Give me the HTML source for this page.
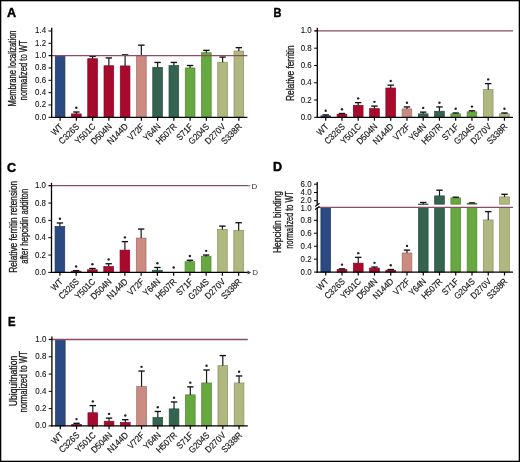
<!DOCTYPE html>
<html><head><meta charset="utf-8"><style>
html,body{margin:0;padding:0;background:#fff;}
svg{display:block;filter:grayscale(0);font-family:"Liberation Sans",sans-serif;}
</style></head><body>
<svg width="520" height="462" viewBox="0 0 520 462">
<rect x="0" y="0" width="520" height="462" fill="#fff"/>
<text transform="translate(7.0,17.1) scale(1.0,1)" font-size="12.6" font-weight="bold"  fill="#000" stroke="#000" stroke-width="0.45">A</text>
<text transform="translate(16.30,68.4) rotate(-90)" text-anchor="middle" font-size="10.2"  fill="#1a1a1a" stroke="#1a1a1a" stroke-width="0.3" textLength="76" lengthAdjust="spacingAndGlyphs">Membrane localization</text>
<text transform="translate(27.10,70.3) rotate(-90)" text-anchor="middle" font-size="10.2"  fill="#1a1a1a" stroke="#1a1a1a" stroke-width="0.3" textLength="60.2" lengthAdjust="spacingAndGlyphs">normalized to WT</text>
<rect x="55.25" y="55.65" width="9.7" height="61.65" fill="#2b4a82" stroke="#213965" stroke-width="0.7"/>
<rect x="71.50" y="113.91" width="9.7" height="3.39" fill="#a80a2e" stroke="#830723" stroke-width="0.7"/>
<line x1="76.35" y1="113.91" x2="76.35" y2="112.00" stroke="#1a1a1a" stroke-width="1.2"/>
<line x1="73.15" y1="112.00" x2="79.55" y2="112.00" stroke="#111" stroke-width="1.35"/>
<circle cx="76.35" cy="107.80" r="1.2" fill="#222"/>
<rect x="87.75" y="58.73" width="9.7" height="58.57" fill="#a80a2e" stroke="#830723" stroke-width="0.7"/>
<line x1="92.60" y1="58.73" x2="92.60" y2="56.45" stroke="#1a1a1a" stroke-width="1.2"/>
<line x1="89.40" y1="56.45" x2="95.80" y2="56.45" stroke="#111" stroke-width="1.35"/>
<rect x="104.00" y="65.76" width="9.7" height="51.54" fill="#a80a2e" stroke="#830723" stroke-width="0.7"/>
<line x1="108.85" y1="65.76" x2="108.85" y2="57.93" stroke="#1a1a1a" stroke-width="1.2"/>
<line x1="105.65" y1="57.93" x2="112.05" y2="57.93" stroke="#111" stroke-width="1.35"/>
<rect x="120.25" y="65.95" width="9.7" height="51.35" fill="#a80a2e" stroke="#830723" stroke-width="0.7"/>
<line x1="125.10" y1="65.95" x2="125.10" y2="54.85" stroke="#1a1a1a" stroke-width="1.2"/>
<line x1="121.90" y1="54.85" x2="128.30" y2="54.85" stroke="#111" stroke-width="1.35"/>
<rect x="136.50" y="55.65" width="9.7" height="61.65" fill="#cc8b80" stroke="#9f6c63" stroke-width="0.7"/>
<line x1="141.35" y1="55.65" x2="141.35" y2="45.17" stroke="#1a1a1a" stroke-width="1.2"/>
<line x1="138.15" y1="45.17" x2="144.55" y2="45.17" stroke="#111" stroke-width="1.35"/>
<rect x="152.75" y="67.36" width="9.7" height="49.94" fill="#346450" stroke="#284e3e" stroke-width="0.7"/>
<line x1="157.60" y1="67.36" x2="157.60" y2="62.43" stroke="#1a1a1a" stroke-width="1.2"/>
<line x1="154.40" y1="62.43" x2="160.80" y2="62.43" stroke="#111" stroke-width="1.35"/>
<rect x="169.00" y="65.51" width="9.7" height="51.79" fill="#346450" stroke="#284e3e" stroke-width="0.7"/>
<line x1="173.85" y1="65.51" x2="173.85" y2="62.43" stroke="#1a1a1a" stroke-width="1.2"/>
<line x1="170.65" y1="62.43" x2="177.05" y2="62.43" stroke="#111" stroke-width="1.35"/>
<rect x="185.25" y="67.98" width="9.7" height="49.32" fill="#68a840" stroke="#518331" stroke-width="0.7"/>
<line x1="190.10" y1="67.98" x2="190.10" y2="65.51" stroke="#1a1a1a" stroke-width="1.2"/>
<line x1="186.90" y1="65.51" x2="193.30" y2="65.51" stroke="#111" stroke-width="1.35"/>
<rect x="201.50" y="52.75" width="9.7" height="64.55" fill="#68a840" stroke="#518331" stroke-width="0.7"/>
<line x1="206.35" y1="52.75" x2="206.35" y2="50.35" stroke="#1a1a1a" stroke-width="1.2"/>
<line x1="203.15" y1="50.35" x2="209.55" y2="50.35" stroke="#111" stroke-width="1.35"/>
<rect x="217.75" y="62.25" width="9.7" height="55.05" fill="#b0b880" stroke="#898f63" stroke-width="0.7"/>
<line x1="222.60" y1="62.25" x2="222.60" y2="57.07" stroke="#1a1a1a" stroke-width="1.2"/>
<line x1="219.40" y1="57.07" x2="225.80" y2="57.07" stroke="#111" stroke-width="1.35"/>
<rect x="234.00" y="51.03" width="9.7" height="66.27" fill="#b0b880" stroke="#898f63" stroke-width="0.7"/>
<line x1="238.85" y1="51.03" x2="238.85" y2="47.64" stroke="#1a1a1a" stroke-width="1.2"/>
<line x1="235.65" y1="47.64" x2="242.05" y2="47.64" stroke="#111" stroke-width="1.35"/>
<line x1="49.2" y1="55.65" x2="247.4" y2="55.65" stroke="#8c4c66" stroke-width="1.3"/>
<line x1="51.7" y1="27.8" x2="51.7" y2="117.90" stroke="#000" stroke-width="1.3"/>
<line x1="51.1" y1="117.3" x2="247.4" y2="117.3" stroke="#000" stroke-width="1.3"/>
<line x1="60.10" y1="117.3" x2="60.10" y2="120.70" stroke="#000" stroke-width="1.2"/>
<text transform="translate(63.60,127.20) rotate(-45)" text-anchor="end" font-size="9.0"  fill="#111" stroke="#111" stroke-width="0.15" textLength="12.59" lengthAdjust="spacingAndGlyphs">WT</text>
<line x1="76.35" y1="117.3" x2="76.35" y2="120.70" stroke="#000" stroke-width="1.2"/>
<text transform="translate(79.85,127.20) rotate(-45)" text-anchor="end" font-size="9.0"  fill="#111" stroke="#111" stroke-width="0.15" textLength="24.77" lengthAdjust="spacingAndGlyphs">C326S</text>
<line x1="92.60" y1="117.3" x2="92.60" y2="120.70" stroke="#000" stroke-width="1.2"/>
<text transform="translate(96.10,127.20) rotate(-45)" text-anchor="end" font-size="9.0"  fill="#111" stroke="#111" stroke-width="0.15" textLength="24.77" lengthAdjust="spacingAndGlyphs">Y501C</text>
<line x1="108.85" y1="117.3" x2="108.85" y2="120.70" stroke="#000" stroke-width="1.2"/>
<text transform="translate(112.35,127.20) rotate(-45)" text-anchor="end" font-size="9.0"  fill="#111" stroke="#111" stroke-width="0.15" textLength="25.21" lengthAdjust="spacingAndGlyphs">D504N</text>
<line x1="125.10" y1="117.3" x2="125.10" y2="120.70" stroke="#000" stroke-width="1.2"/>
<text transform="translate(128.60,127.20) rotate(-45)" text-anchor="end" font-size="9.0"  fill="#111" stroke="#111" stroke-width="0.15" textLength="25.21" lengthAdjust="spacingAndGlyphs">N144D</text>
<line x1="141.35" y1="117.3" x2="141.35" y2="120.70" stroke="#000" stroke-width="1.2"/>
<text transform="translate(144.85,127.20) rotate(-45)" text-anchor="end" font-size="9.0"  fill="#111" stroke="#111" stroke-width="0.15" textLength="19.36" lengthAdjust="spacingAndGlyphs">V72F</text>
<line x1="157.60" y1="117.3" x2="157.60" y2="120.70" stroke="#000" stroke-width="1.2"/>
<text transform="translate(161.10,127.20) rotate(-45)" text-anchor="end" font-size="9.0"  fill="#111" stroke="#111" stroke-width="0.15" textLength="20.26" lengthAdjust="spacingAndGlyphs">Y64N</text>
<line x1="173.85" y1="117.3" x2="173.85" y2="120.70" stroke="#000" stroke-width="1.2"/>
<text transform="translate(177.35,127.20) rotate(-45)" text-anchor="end" font-size="9.0"  fill="#111" stroke="#111" stroke-width="0.15" textLength="25.21" lengthAdjust="spacingAndGlyphs">H507R</text>
<line x1="190.10" y1="117.3" x2="190.10" y2="120.70" stroke="#000" stroke-width="1.2"/>
<text transform="translate(193.60,127.20) rotate(-45)" text-anchor="end" font-size="9.0"  fill="#111" stroke="#111" stroke-width="0.15" textLength="19.36" lengthAdjust="spacingAndGlyphs">S71F</text>
<line x1="206.35" y1="117.3" x2="206.35" y2="120.70" stroke="#000" stroke-width="1.2"/>
<text transform="translate(209.85,127.20) rotate(-45)" text-anchor="end" font-size="9.0"  fill="#111" stroke="#111" stroke-width="0.15" textLength="25.22" lengthAdjust="spacingAndGlyphs">G204S</text>
<line x1="222.60" y1="117.3" x2="222.60" y2="120.70" stroke="#000" stroke-width="1.2"/>
<text transform="translate(226.10,127.20) rotate(-45)" text-anchor="end" font-size="9.0"  fill="#111" stroke="#111" stroke-width="0.15" textLength="24.77" lengthAdjust="spacingAndGlyphs">D270V</text>
<line x1="238.85" y1="117.3" x2="238.85" y2="120.70" stroke="#000" stroke-width="1.2"/>
<text transform="translate(242.35,127.20) rotate(-45)" text-anchor="end" font-size="9.0"  fill="#111" stroke="#111" stroke-width="0.15" textLength="24.77" lengthAdjust="spacingAndGlyphs">S338R</text>
<line x1="48.5" y1="117.30" x2="51.7" y2="117.30" stroke="#000" stroke-width="1"/>
<text x="46.1" y="119.80" text-anchor="end" font-size="8.7"  fill="#111" stroke="#111" stroke-width="0.1" textLength="10.98" lengthAdjust="spacingAndGlyphs">0.0</text>
<line x1="48.5" y1="104.97" x2="51.7" y2="104.97" stroke="#000" stroke-width="1"/>
<text x="46.1" y="107.47" text-anchor="end" font-size="8.7"  fill="#111" stroke="#111" stroke-width="0.1" textLength="10.98" lengthAdjust="spacingAndGlyphs">0.2</text>
<line x1="48.5" y1="92.64" x2="51.7" y2="92.64" stroke="#000" stroke-width="1"/>
<text x="46.1" y="95.14" text-anchor="end" font-size="8.7"  fill="#111" stroke="#111" stroke-width="0.1" textLength="10.98" lengthAdjust="spacingAndGlyphs">0.4</text>
<line x1="48.5" y1="80.31" x2="51.7" y2="80.31" stroke="#000" stroke-width="1"/>
<text x="46.1" y="82.81" text-anchor="end" font-size="8.7"  fill="#111" stroke="#111" stroke-width="0.1" textLength="10.98" lengthAdjust="spacingAndGlyphs">0.6</text>
<line x1="48.5" y1="67.98" x2="51.7" y2="67.98" stroke="#000" stroke-width="1"/>
<text x="46.1" y="70.48" text-anchor="end" font-size="8.7"  fill="#111" stroke="#111" stroke-width="0.1" textLength="10.98" lengthAdjust="spacingAndGlyphs">0.8</text>
<line x1="48.5" y1="55.65" x2="51.7" y2="55.65" stroke="#000" stroke-width="1"/>
<text x="46.1" y="58.15" text-anchor="end" font-size="8.7"  fill="#111" stroke="#111" stroke-width="0.1" textLength="10.98" lengthAdjust="spacingAndGlyphs">1.0</text>
<line x1="48.5" y1="43.32" x2="51.7" y2="43.32" stroke="#000" stroke-width="1"/>
<text x="46.1" y="45.82" text-anchor="end" font-size="8.7"  fill="#111" stroke="#111" stroke-width="0.1" textLength="10.98" lengthAdjust="spacingAndGlyphs">1.2</text>
<line x1="48.5" y1="30.99" x2="51.7" y2="30.99" stroke="#000" stroke-width="1"/>
<text x="46.1" y="33.49" text-anchor="end" font-size="8.7"  fill="#111" stroke="#111" stroke-width="0.1" textLength="10.98" lengthAdjust="spacingAndGlyphs">1.4</text>
<text transform="translate(273.6,17.1) scale(0.87,1)" font-size="12.6" font-weight="bold"  fill="#000" stroke="#000" stroke-width="0.45">B</text>
<text transform="translate(294.30,73.2) rotate(-90)" text-anchor="middle" font-size="10.2"  fill="#1a1a1a" stroke="#1a1a1a" stroke-width="0.3" textLength="55.5" lengthAdjust="spacingAndGlyphs">Relative ferritin</text>
<rect x="320.85" y="115.83" width="9.7" height="1.47" fill="#2b4a82" stroke="#213965" stroke-width="0.7"/>
<line x1="325.70" y1="115.83" x2="325.70" y2="114.88" stroke="#1a1a1a" stroke-width="1.2"/>
<line x1="322.50" y1="114.88" x2="328.90" y2="114.88" stroke="#111" stroke-width="1.35"/>
<circle cx="325.70" cy="110.68" r="1.2" fill="#222"/>
<rect x="337.10" y="114.19" width="9.7" height="3.11" fill="#a80a2e" stroke="#830723" stroke-width="0.7"/>
<line x1="341.95" y1="114.19" x2="341.95" y2="113.50" stroke="#1a1a1a" stroke-width="1.2"/>
<line x1="338.75" y1="113.50" x2="345.15" y2="113.50" stroke="#111" stroke-width="1.35"/>
<circle cx="341.95" cy="109.30" r="1.2" fill="#222"/>
<rect x="353.35" y="105.38" width="9.7" height="11.92" fill="#a80a2e" stroke="#830723" stroke-width="0.7"/>
<line x1="358.20" y1="105.38" x2="358.20" y2="102.61" stroke="#1a1a1a" stroke-width="1.2"/>
<line x1="355.00" y1="102.61" x2="361.40" y2="102.61" stroke="#111" stroke-width="1.35"/>
<circle cx="358.20" cy="98.41" r="1.2" fill="#222"/>
<rect x="369.60" y="108.66" width="9.7" height="8.64" fill="#a80a2e" stroke="#830723" stroke-width="0.7"/>
<line x1="374.45" y1="108.66" x2="374.45" y2="106.07" stroke="#1a1a1a" stroke-width="1.2"/>
<line x1="371.25" y1="106.07" x2="377.65" y2="106.07" stroke="#111" stroke-width="1.35"/>
<circle cx="374.45" cy="101.87" r="1.2" fill="#222"/>
<rect x="385.85" y="88.01" width="9.7" height="29.29" fill="#a80a2e" stroke="#830723" stroke-width="0.7"/>
<line x1="390.70" y1="88.01" x2="390.70" y2="85.16" stroke="#1a1a1a" stroke-width="1.2"/>
<line x1="387.50" y1="85.16" x2="393.90" y2="85.16" stroke="#111" stroke-width="1.35"/>
<circle cx="390.70" cy="80.96" r="1.2" fill="#222"/>
<rect x="402.10" y="108.92" width="9.7" height="8.38" fill="#cc8b80" stroke="#9f6c63" stroke-width="0.7"/>
<line x1="406.95" y1="108.92" x2="406.95" y2="106.93" stroke="#1a1a1a" stroke-width="1.2"/>
<line x1="403.75" y1="106.93" x2="410.15" y2="106.93" stroke="#111" stroke-width="1.35"/>
<circle cx="406.95" cy="102.73" r="1.2" fill="#222"/>
<rect x="418.35" y="113.84" width="9.7" height="3.46" fill="#346450" stroke="#284e3e" stroke-width="0.7"/>
<line x1="423.20" y1="113.84" x2="423.20" y2="112.12" stroke="#1a1a1a" stroke-width="1.2"/>
<line x1="420.00" y1="112.12" x2="426.40" y2="112.12" stroke="#111" stroke-width="1.35"/>
<circle cx="423.20" cy="107.92" r="1.2" fill="#222"/>
<rect x="434.60" y="111.25" width="9.7" height="6.05" fill="#346450" stroke="#284e3e" stroke-width="0.7"/>
<line x1="439.45" y1="111.25" x2="439.45" y2="106.93" stroke="#1a1a1a" stroke-width="1.2"/>
<line x1="436.25" y1="106.93" x2="442.65" y2="106.93" stroke="#111" stroke-width="1.35"/>
<circle cx="439.45" cy="102.73" r="1.2" fill="#222"/>
<rect x="450.85" y="113.84" width="9.7" height="3.46" fill="#68a840" stroke="#518331" stroke-width="0.7"/>
<line x1="455.70" y1="113.84" x2="455.70" y2="112.98" stroke="#1a1a1a" stroke-width="1.2"/>
<line x1="452.50" y1="112.98" x2="458.90" y2="112.98" stroke="#111" stroke-width="1.35"/>
<circle cx="455.70" cy="108.78" r="1.2" fill="#222"/>
<rect x="467.10" y="111.86" width="9.7" height="5.44" fill="#68a840" stroke="#518331" stroke-width="0.7"/>
<line x1="471.95" y1="111.86" x2="471.95" y2="110.82" stroke="#1a1a1a" stroke-width="1.2"/>
<line x1="468.75" y1="110.82" x2="475.15" y2="110.82" stroke="#111" stroke-width="1.35"/>
<circle cx="471.95" cy="106.62" r="1.2" fill="#222"/>
<rect x="483.35" y="89.65" width="9.7" height="27.65" fill="#b0b880" stroke="#898f63" stroke-width="0.7"/>
<line x1="488.20" y1="89.65" x2="488.20" y2="83.60" stroke="#1a1a1a" stroke-width="1.2"/>
<line x1="485.00" y1="83.60" x2="491.40" y2="83.60" stroke="#111" stroke-width="1.35"/>
<circle cx="488.20" cy="79.40" r="1.2" fill="#222"/>
<rect x="499.60" y="113.84" width="9.7" height="3.46" fill="#b0b880" stroke="#898f63" stroke-width="0.7"/>
<line x1="504.45" y1="113.84" x2="504.45" y2="112.98" stroke="#1a1a1a" stroke-width="1.2"/>
<line x1="501.25" y1="112.98" x2="507.65" y2="112.98" stroke="#111" stroke-width="1.35"/>
<circle cx="504.45" cy="108.78" r="1.2" fill="#222"/>
<line x1="314.8" y1="30.90" x2="513" y2="30.90" stroke="#8c4c66" stroke-width="1.3"/>
<line x1="317.3" y1="27.8" x2="317.3" y2="117.90" stroke="#000" stroke-width="1.3"/>
<line x1="316.7" y1="117.3" x2="513" y2="117.3" stroke="#000" stroke-width="1.3"/>
<line x1="325.70" y1="117.3" x2="325.70" y2="120.70" stroke="#000" stroke-width="1.2"/>
<text transform="translate(329.20,127.20) rotate(-45)" text-anchor="end" font-size="9.0"  fill="#111" stroke="#111" stroke-width="0.15" textLength="12.59" lengthAdjust="spacingAndGlyphs">WT</text>
<line x1="341.95" y1="117.3" x2="341.95" y2="120.70" stroke="#000" stroke-width="1.2"/>
<text transform="translate(345.45,127.20) rotate(-45)" text-anchor="end" font-size="9.0"  fill="#111" stroke="#111" stroke-width="0.15" textLength="24.77" lengthAdjust="spacingAndGlyphs">C326S</text>
<line x1="358.20" y1="117.3" x2="358.20" y2="120.70" stroke="#000" stroke-width="1.2"/>
<text transform="translate(361.70,127.20) rotate(-45)" text-anchor="end" font-size="9.0"  fill="#111" stroke="#111" stroke-width="0.15" textLength="24.77" lengthAdjust="spacingAndGlyphs">Y501C</text>
<line x1="374.45" y1="117.3" x2="374.45" y2="120.70" stroke="#000" stroke-width="1.2"/>
<text transform="translate(377.95,127.20) rotate(-45)" text-anchor="end" font-size="9.0"  fill="#111" stroke="#111" stroke-width="0.15" textLength="25.21" lengthAdjust="spacingAndGlyphs">D504N</text>
<line x1="390.70" y1="117.3" x2="390.70" y2="120.70" stroke="#000" stroke-width="1.2"/>
<text transform="translate(394.20,127.20) rotate(-45)" text-anchor="end" font-size="9.0"  fill="#111" stroke="#111" stroke-width="0.15" textLength="25.21" lengthAdjust="spacingAndGlyphs">N144D</text>
<line x1="406.95" y1="117.3" x2="406.95" y2="120.70" stroke="#000" stroke-width="1.2"/>
<text transform="translate(410.45,127.20) rotate(-45)" text-anchor="end" font-size="9.0"  fill="#111" stroke="#111" stroke-width="0.15" textLength="19.36" lengthAdjust="spacingAndGlyphs">V72F</text>
<line x1="423.20" y1="117.3" x2="423.20" y2="120.70" stroke="#000" stroke-width="1.2"/>
<text transform="translate(426.70,127.20) rotate(-45)" text-anchor="end" font-size="9.0"  fill="#111" stroke="#111" stroke-width="0.15" textLength="20.26" lengthAdjust="spacingAndGlyphs">Y64N</text>
<line x1="439.45" y1="117.3" x2="439.45" y2="120.70" stroke="#000" stroke-width="1.2"/>
<text transform="translate(442.95,127.20) rotate(-45)" text-anchor="end" font-size="9.0"  fill="#111" stroke="#111" stroke-width="0.15" textLength="25.21" lengthAdjust="spacingAndGlyphs">H507R</text>
<line x1="455.70" y1="117.3" x2="455.70" y2="120.70" stroke="#000" stroke-width="1.2"/>
<text transform="translate(459.20,127.20) rotate(-45)" text-anchor="end" font-size="9.0"  fill="#111" stroke="#111" stroke-width="0.15" textLength="19.36" lengthAdjust="spacingAndGlyphs">S71F</text>
<line x1="471.95" y1="117.3" x2="471.95" y2="120.70" stroke="#000" stroke-width="1.2"/>
<text transform="translate(475.45,127.20) rotate(-45)" text-anchor="end" font-size="9.0"  fill="#111" stroke="#111" stroke-width="0.15" textLength="25.22" lengthAdjust="spacingAndGlyphs">G204S</text>
<line x1="488.20" y1="117.3" x2="488.20" y2="120.70" stroke="#000" stroke-width="1.2"/>
<text transform="translate(491.70,127.20) rotate(-45)" text-anchor="end" font-size="9.0"  fill="#111" stroke="#111" stroke-width="0.15" textLength="24.77" lengthAdjust="spacingAndGlyphs">D270V</text>
<line x1="504.45" y1="117.3" x2="504.45" y2="120.70" stroke="#000" stroke-width="1.2"/>
<text transform="translate(507.95,127.20) rotate(-45)" text-anchor="end" font-size="9.0"  fill="#111" stroke="#111" stroke-width="0.15" textLength="24.77" lengthAdjust="spacingAndGlyphs">S338R</text>
<line x1="314.1" y1="117.30" x2="317.3" y2="117.30" stroke="#000" stroke-width="1"/>
<text x="311.7" y="119.80" text-anchor="end" font-size="8.7"  fill="#111" stroke="#111" stroke-width="0.1" textLength="10.98" lengthAdjust="spacingAndGlyphs">0.0</text>
<line x1="314.1" y1="100.02" x2="317.3" y2="100.02" stroke="#000" stroke-width="1"/>
<text x="311.7" y="102.52" text-anchor="end" font-size="8.7"  fill="#111" stroke="#111" stroke-width="0.1" textLength="10.98" lengthAdjust="spacingAndGlyphs">0.2</text>
<line x1="314.1" y1="82.74" x2="317.3" y2="82.74" stroke="#000" stroke-width="1"/>
<text x="311.7" y="85.24" text-anchor="end" font-size="8.7"  fill="#111" stroke="#111" stroke-width="0.1" textLength="10.98" lengthAdjust="spacingAndGlyphs">0.4</text>
<line x1="314.1" y1="65.46" x2="317.3" y2="65.46" stroke="#000" stroke-width="1"/>
<text x="311.7" y="67.96" text-anchor="end" font-size="8.7"  fill="#111" stroke="#111" stroke-width="0.1" textLength="10.98" lengthAdjust="spacingAndGlyphs">0.6</text>
<line x1="314.1" y1="48.18" x2="317.3" y2="48.18" stroke="#000" stroke-width="1"/>
<text x="311.7" y="50.68" text-anchor="end" font-size="8.7"  fill="#111" stroke="#111" stroke-width="0.1" textLength="10.98" lengthAdjust="spacingAndGlyphs">0.8</text>
<line x1="314.1" y1="30.90" x2="317.3" y2="30.90" stroke="#000" stroke-width="1"/>
<text x="311.7" y="33.40" text-anchor="end" font-size="8.7"  fill="#111" stroke="#111" stroke-width="0.1" textLength="10.98" lengthAdjust="spacingAndGlyphs">1.0</text>
<text transform="translate(7.0,172.0) scale(1.0,1)" font-size="12.6" font-weight="bold"  fill="#000" stroke="#000" stroke-width="0.45">C</text>
<text transform="translate(16.50,226.8) rotate(-90)" text-anchor="middle" font-size="10.2"  fill="#1a1a1a" stroke="#1a1a1a" stroke-width="0.3" textLength="92" lengthAdjust="spacingAndGlyphs">Relative ferritin retension</text>
<text transform="translate(28.00,226.2) rotate(-90)" text-anchor="middle" font-size="10.2"  fill="#1a1a1a" stroke="#1a1a1a" stroke-width="0.3" textLength="75" lengthAdjust="spacingAndGlyphs">after hepcidin additon</text>
<rect x="55.05" y="226.45" width="9.7" height="45.95" fill="#2b4a82" stroke="#213965" stroke-width="0.7"/>
<line x1="59.90" y1="226.45" x2="59.90" y2="222.98" stroke="#1a1a1a" stroke-width="1.2"/>
<line x1="56.70" y1="222.98" x2="63.10" y2="222.98" stroke="#111" stroke-width="1.35"/>
<circle cx="59.90" cy="218.78" r="1.2" fill="#222"/>
<rect x="71.30" y="271.19" width="9.7" height="1.21" fill="#a80a2e" stroke="#830723" stroke-width="0.7"/>
<line x1="76.15" y1="271.19" x2="76.15" y2="270.67" stroke="#1a1a1a" stroke-width="1.2"/>
<line x1="72.95" y1="270.67" x2="79.35" y2="270.67" stroke="#111" stroke-width="1.35"/>
<circle cx="76.15" cy="266.47" r="1.2" fill="#222"/>
<rect x="87.55" y="269.80" width="9.7" height="2.60" fill="#a80a2e" stroke="#830723" stroke-width="0.7"/>
<line x1="92.40" y1="269.80" x2="92.40" y2="268.50" stroke="#1a1a1a" stroke-width="1.2"/>
<line x1="89.20" y1="268.50" x2="95.60" y2="268.50" stroke="#111" stroke-width="1.35"/>
<circle cx="92.40" cy="264.30" r="1.2" fill="#222"/>
<rect x="103.80" y="266.59" width="9.7" height="5.81" fill="#a80a2e" stroke="#830723" stroke-width="0.7"/>
<line x1="108.65" y1="266.59" x2="108.65" y2="263.73" stroke="#1a1a1a" stroke-width="1.2"/>
<line x1="105.45" y1="263.73" x2="111.85" y2="263.73" stroke="#111" stroke-width="1.35"/>
<circle cx="108.65" cy="259.53" r="1.2" fill="#222"/>
<rect x="120.05" y="250.12" width="9.7" height="22.28" fill="#a80a2e" stroke="#830723" stroke-width="0.7"/>
<line x1="124.90" y1="250.12" x2="124.90" y2="241.62" stroke="#1a1a1a" stroke-width="1.2"/>
<line x1="121.70" y1="241.62" x2="128.10" y2="241.62" stroke="#111" stroke-width="1.35"/>
<circle cx="124.90" cy="237.42" r="1.2" fill="#222"/>
<rect x="136.30" y="238.07" width="9.7" height="34.33" fill="#cc8b80" stroke="#9f6c63" stroke-width="0.7"/>
<line x1="141.15" y1="238.07" x2="141.15" y2="229.05" stroke="#1a1a1a" stroke-width="1.2"/>
<line x1="137.95" y1="229.05" x2="144.35" y2="229.05" stroke="#111" stroke-width="1.35"/>
<rect x="152.55" y="270.23" width="9.7" height="2.17" fill="#346450" stroke="#284e3e" stroke-width="0.7"/>
<line x1="157.40" y1="270.23" x2="157.40" y2="267.46" stroke="#1a1a1a" stroke-width="1.2"/>
<line x1="154.20" y1="267.46" x2="160.60" y2="267.46" stroke="#111" stroke-width="1.35"/>
<circle cx="157.40" cy="263.26" r="1.2" fill="#222"/>
<circle cx="173.65" cy="267.50" r="1.2" fill="#222"/>
<rect x="185.05" y="261.74" width="9.7" height="10.66" fill="#68a840" stroke="#518331" stroke-width="0.7"/>
<line x1="189.90" y1="261.74" x2="189.90" y2="260.26" stroke="#1a1a1a" stroke-width="1.2"/>
<line x1="186.70" y1="260.26" x2="193.10" y2="260.26" stroke="#111" stroke-width="1.35"/>
<circle cx="189.90" cy="256.06" r="1.2" fill="#222"/>
<rect x="201.30" y="256.45" width="9.7" height="15.95" fill="#68a840" stroke="#518331" stroke-width="0.7"/>
<line x1="206.15" y1="256.45" x2="206.15" y2="255.06" stroke="#1a1a1a" stroke-width="1.2"/>
<line x1="202.95" y1="255.06" x2="209.35" y2="255.06" stroke="#111" stroke-width="1.35"/>
<circle cx="206.15" cy="250.86" r="1.2" fill="#222"/>
<rect x="217.55" y="229.48" width="9.7" height="42.92" fill="#b0b880" stroke="#898f63" stroke-width="0.7"/>
<line x1="222.40" y1="229.48" x2="222.40" y2="226.10" stroke="#1a1a1a" stroke-width="1.2"/>
<line x1="219.20" y1="226.10" x2="225.60" y2="226.10" stroke="#111" stroke-width="1.35"/>
<rect x="233.80" y="230.26" width="9.7" height="42.14" fill="#b0b880" stroke="#898f63" stroke-width="0.7"/>
<line x1="238.65" y1="230.26" x2="238.65" y2="222.72" stroke="#1a1a1a" stroke-width="1.2"/>
<line x1="235.45" y1="222.72" x2="241.85" y2="222.72" stroke="#111" stroke-width="1.35"/>
<line x1="49.0" y1="185.70" x2="247.9" y2="185.70" stroke="#8c4c66" stroke-width="1.3"/>
<line x1="51.5" y1="182.8" x2="51.5" y2="273.00" stroke="#000" stroke-width="1.3"/>
<line x1="50.9" y1="272.4" x2="247.9" y2="272.4" stroke="#000" stroke-width="1.3"/>
<line x1="59.90" y1="272.4" x2="59.90" y2="275.80" stroke="#000" stroke-width="1.2"/>
<text transform="translate(63.40,282.30) rotate(-45)" text-anchor="end" font-size="9.0"  fill="#111" stroke="#111" stroke-width="0.15" textLength="12.59" lengthAdjust="spacingAndGlyphs">WT</text>
<line x1="76.15" y1="272.4" x2="76.15" y2="275.80" stroke="#000" stroke-width="1.2"/>
<text transform="translate(79.65,282.30) rotate(-45)" text-anchor="end" font-size="9.0"  fill="#111" stroke="#111" stroke-width="0.15" textLength="24.77" lengthAdjust="spacingAndGlyphs">C326S</text>
<line x1="92.40" y1="272.4" x2="92.40" y2="275.80" stroke="#000" stroke-width="1.2"/>
<text transform="translate(95.90,282.30) rotate(-45)" text-anchor="end" font-size="9.0"  fill="#111" stroke="#111" stroke-width="0.15" textLength="24.77" lengthAdjust="spacingAndGlyphs">Y501C</text>
<line x1="108.65" y1="272.4" x2="108.65" y2="275.80" stroke="#000" stroke-width="1.2"/>
<text transform="translate(112.15,282.30) rotate(-45)" text-anchor="end" font-size="9.0"  fill="#111" stroke="#111" stroke-width="0.15" textLength="25.21" lengthAdjust="spacingAndGlyphs">D504N</text>
<line x1="124.90" y1="272.4" x2="124.90" y2="275.80" stroke="#000" stroke-width="1.2"/>
<text transform="translate(128.40,282.30) rotate(-45)" text-anchor="end" font-size="9.0"  fill="#111" stroke="#111" stroke-width="0.15" textLength="25.21" lengthAdjust="spacingAndGlyphs">N144D</text>
<line x1="141.15" y1="272.4" x2="141.15" y2="275.80" stroke="#000" stroke-width="1.2"/>
<text transform="translate(144.65,282.30) rotate(-45)" text-anchor="end" font-size="9.0"  fill="#111" stroke="#111" stroke-width="0.15" textLength="19.36" lengthAdjust="spacingAndGlyphs">V72F</text>
<line x1="157.40" y1="272.4" x2="157.40" y2="275.80" stroke="#000" stroke-width="1.2"/>
<text transform="translate(160.90,282.30) rotate(-45)" text-anchor="end" font-size="9.0"  fill="#111" stroke="#111" stroke-width="0.15" textLength="20.26" lengthAdjust="spacingAndGlyphs">Y64N</text>
<line x1="173.65" y1="272.4" x2="173.65" y2="275.80" stroke="#000" stroke-width="1.2"/>
<text transform="translate(177.15,282.30) rotate(-45)" text-anchor="end" font-size="9.0"  fill="#111" stroke="#111" stroke-width="0.15" textLength="25.21" lengthAdjust="spacingAndGlyphs">H507R</text>
<line x1="189.90" y1="272.4" x2="189.90" y2="275.80" stroke="#000" stroke-width="1.2"/>
<text transform="translate(193.40,282.30) rotate(-45)" text-anchor="end" font-size="9.0"  fill="#111" stroke="#111" stroke-width="0.15" textLength="19.36" lengthAdjust="spacingAndGlyphs">S71F</text>
<line x1="206.15" y1="272.4" x2="206.15" y2="275.80" stroke="#000" stroke-width="1.2"/>
<text transform="translate(209.65,282.30) rotate(-45)" text-anchor="end" font-size="9.0"  fill="#111" stroke="#111" stroke-width="0.15" textLength="25.22" lengthAdjust="spacingAndGlyphs">G204S</text>
<line x1="222.40" y1="272.4" x2="222.40" y2="275.80" stroke="#000" stroke-width="1.2"/>
<text transform="translate(225.90,282.30) rotate(-45)" text-anchor="end" font-size="9.0"  fill="#111" stroke="#111" stroke-width="0.15" textLength="24.77" lengthAdjust="spacingAndGlyphs">D270V</text>
<line x1="238.65" y1="272.4" x2="238.65" y2="275.80" stroke="#000" stroke-width="1.2"/>
<text transform="translate(242.15,282.30) rotate(-45)" text-anchor="end" font-size="9.0"  fill="#111" stroke="#111" stroke-width="0.15" textLength="24.77" lengthAdjust="spacingAndGlyphs">S338R</text>
<line x1="48.3" y1="272.40" x2="51.5" y2="272.40" stroke="#000" stroke-width="1"/>
<text x="45.9" y="274.90" text-anchor="end" font-size="8.7"  fill="#111" stroke="#111" stroke-width="0.1" textLength="10.98" lengthAdjust="spacingAndGlyphs">0.0</text>
<line x1="48.3" y1="255.06" x2="51.5" y2="255.06" stroke="#000" stroke-width="1"/>
<text x="45.9" y="257.56" text-anchor="end" font-size="8.7"  fill="#111" stroke="#111" stroke-width="0.1" textLength="10.98" lengthAdjust="spacingAndGlyphs">0.2</text>
<line x1="48.3" y1="237.72" x2="51.5" y2="237.72" stroke="#000" stroke-width="1"/>
<text x="45.9" y="240.22" text-anchor="end" font-size="8.7"  fill="#111" stroke="#111" stroke-width="0.1" textLength="10.98" lengthAdjust="spacingAndGlyphs">0.4</text>
<line x1="48.3" y1="220.38" x2="51.5" y2="220.38" stroke="#000" stroke-width="1"/>
<text x="45.9" y="222.88" text-anchor="end" font-size="8.7"  fill="#111" stroke="#111" stroke-width="0.1" textLength="10.98" lengthAdjust="spacingAndGlyphs">0.6</text>
<line x1="48.3" y1="203.04" x2="51.5" y2="203.04" stroke="#000" stroke-width="1"/>
<text x="45.9" y="205.54" text-anchor="end" font-size="8.7"  fill="#111" stroke="#111" stroke-width="0.1" textLength="10.98" lengthAdjust="spacingAndGlyphs">0.8</text>
<line x1="48.3" y1="185.70" x2="51.5" y2="185.70" stroke="#000" stroke-width="1"/>
<text x="45.9" y="188.20" text-anchor="end" font-size="8.7"  fill="#111" stroke="#111" stroke-width="0.1" textLength="10.98" lengthAdjust="spacingAndGlyphs">1.0</text>
<line x1="247.6" y1="185.8" x2="250.2" y2="185.8" stroke="#555" stroke-width="0.9"/>
<text x="251.4" y="188.7" font-size="8"  fill="#333">D</text>
<path d="M247.6 270.4 L251.2 272.4 L247.6 274.4 Z" fill="#444"/>
<text x="252.3" y="275.2" font-size="8"  fill="#333">D</text>
<text transform="translate(273.0,171.0) scale(1.0,1)" font-size="12.6" font-weight="bold"  fill="#000" stroke="#000" stroke-width="0.45">D</text>
<text transform="translate(280.60,222.0) rotate(-90)" text-anchor="middle" font-size="10.2"  fill="#1a1a1a" stroke="#1a1a1a" stroke-width="0.3" textLength="62" lengthAdjust="spacingAndGlyphs">Hepcidin binding</text>
<text transform="translate(292.60,219.9) rotate(-90)" text-anchor="middle" font-size="10.2"  fill="#1a1a1a" stroke="#1a1a1a" stroke-width="0.3" textLength="57.5" lengthAdjust="spacingAndGlyphs">normalized to WT</text>
<rect x="320.90" y="207.40" width="9.7" height="64.70" fill="#2b4a82" stroke="#213965" stroke-width="0.7"/>
<rect x="337.15" y="269.51" width="9.7" height="2.59" fill="#a80a2e" stroke="#830723" stroke-width="0.7"/>
<line x1="342.00" y1="269.51" x2="342.00" y2="268.87" stroke="#1a1a1a" stroke-width="1.2"/>
<line x1="338.80" y1="268.87" x2="345.20" y2="268.87" stroke="#111" stroke-width="1.35"/>
<circle cx="342.00" cy="264.67" r="1.2" fill="#222"/>
<rect x="353.40" y="263.17" width="9.7" height="8.93" fill="#a80a2e" stroke="#830723" stroke-width="0.7"/>
<line x1="358.25" y1="263.17" x2="358.25" y2="257.35" stroke="#1a1a1a" stroke-width="1.2"/>
<line x1="355.05" y1="257.35" x2="361.45" y2="257.35" stroke="#111" stroke-width="1.35"/>
<circle cx="358.25" cy="253.15" r="1.2" fill="#222"/>
<rect x="369.65" y="268.09" width="9.7" height="4.01" fill="#a80a2e" stroke="#830723" stroke-width="0.7"/>
<line x1="374.50" y1="268.09" x2="374.50" y2="267.05" stroke="#1a1a1a" stroke-width="1.2"/>
<line x1="371.30" y1="267.05" x2="377.70" y2="267.05" stroke="#111" stroke-width="1.35"/>
<circle cx="374.50" cy="262.85" r="1.2" fill="#222"/>
<rect x="385.90" y="270.16" width="9.7" height="1.94" fill="#a80a2e" stroke="#830723" stroke-width="0.7"/>
<line x1="390.75" y1="270.16" x2="390.75" y2="269.51" stroke="#1a1a1a" stroke-width="1.2"/>
<line x1="387.55" y1="269.51" x2="393.95" y2="269.51" stroke="#111" stroke-width="1.35"/>
<circle cx="390.75" cy="265.31" r="1.2" fill="#222"/>
<rect x="402.15" y="253.01" width="9.7" height="19.09" fill="#cc8b80" stroke="#9f6c63" stroke-width="0.7"/>
<line x1="407.00" y1="253.01" x2="407.00" y2="250.10" stroke="#1a1a1a" stroke-width="1.2"/>
<line x1="403.80" y1="250.10" x2="410.20" y2="250.10" stroke="#111" stroke-width="1.35"/>
<circle cx="407.00" cy="245.90" r="1.2" fill="#222"/>
<rect x="418.40" y="207.40" width="9.7" height="64.70" fill="#346450" stroke="#284e3e" stroke-width="0.7"/>
<rect x="418.40" y="204.02" width="9.7" height="0.60" fill="#346450" stroke="#284e3e" stroke-width="0.7"/>
<line x1="423.25" y1="204.02" x2="423.25" y2="202.48" stroke="#1a1a1a" stroke-width="1.2"/>
<line x1="420.05" y1="202.48" x2="426.45" y2="202.48" stroke="#111" stroke-width="1.35"/>
<rect x="434.65" y="207.40" width="9.7" height="64.70" fill="#346450" stroke="#284e3e" stroke-width="0.7"/>
<rect x="434.65" y="195.89" width="9.7" height="8.31" fill="#346450" stroke="#284e3e" stroke-width="0.7"/>
<line x1="439.50" y1="195.89" x2="439.50" y2="190.20" stroke="#1a1a1a" stroke-width="1.2"/>
<line x1="436.30" y1="190.20" x2="442.70" y2="190.20" stroke="#111" stroke-width="1.35"/>
<rect x="450.90" y="207.40" width="9.7" height="64.70" fill="#68a840" stroke="#518331" stroke-width="0.7"/>
<rect x="450.90" y="197.92" width="9.7" height="6.28" fill="#68a840" stroke="#518331" stroke-width="0.7"/>
<line x1="455.75" y1="197.92" x2="455.75" y2="197.21" stroke="#1a1a1a" stroke-width="1.2"/>
<line x1="452.55" y1="197.21" x2="458.95" y2="197.21" stroke="#111" stroke-width="1.35"/>
<rect x="467.15" y="207.40" width="9.7" height="64.70" fill="#68a840" stroke="#518331" stroke-width="0.7"/>
<rect x="467.15" y="203.31" width="9.7" height="0.89" fill="#68a840" stroke="#518331" stroke-width="0.7"/>
<line x1="472.00" y1="203.31" x2="472.00" y2="202.90" stroke="#1a1a1a" stroke-width="1.2"/>
<line x1="468.80" y1="202.90" x2="475.20" y2="202.90" stroke="#111" stroke-width="1.35"/>
<rect x="483.40" y="219.95" width="9.7" height="52.15" fill="#b0b880" stroke="#898f63" stroke-width="0.7"/>
<line x1="488.25" y1="219.95" x2="488.25" y2="211.61" stroke="#1a1a1a" stroke-width="1.2"/>
<line x1="485.05" y1="211.61" x2="491.45" y2="211.61" stroke="#111" stroke-width="1.35"/>
<rect x="499.65" y="207.40" width="9.7" height="64.70" fill="#b0b880" stroke="#898f63" stroke-width="0.7"/>
<rect x="499.65" y="196.88" width="9.7" height="7.32" fill="#b0b880" stroke="#898f63" stroke-width="0.7"/>
<line x1="504.50" y1="196.88" x2="504.50" y2="194.31" stroke="#1a1a1a" stroke-width="1.2"/>
<line x1="501.30" y1="194.31" x2="507.70" y2="194.31" stroke="#111" stroke-width="1.35"/>
<line x1="318.0" y1="207.30" x2="513" y2="207.30" stroke="#8c4c66" stroke-width="1.3"/>
<line x1="317.2" y1="182.0" x2="317.2" y2="204.90" stroke="#000" stroke-width="1.3"/>
<line x1="317.2" y1="207.4" x2="317.2" y2="272.70" stroke="#000" stroke-width="1.3"/>
<line x1="316.59999999999997" y1="272.1" x2="513" y2="272.1" stroke="#000" stroke-width="1.3"/>
<line x1="325.75" y1="272.1" x2="325.75" y2="275.50" stroke="#000" stroke-width="1.2"/>
<text transform="translate(329.25,282.00) rotate(-45)" text-anchor="end" font-size="9.0"  fill="#111" stroke="#111" stroke-width="0.15" textLength="12.59" lengthAdjust="spacingAndGlyphs">WT</text>
<line x1="342.00" y1="272.1" x2="342.00" y2="275.50" stroke="#000" stroke-width="1.2"/>
<text transform="translate(345.50,282.00) rotate(-45)" text-anchor="end" font-size="9.0"  fill="#111" stroke="#111" stroke-width="0.15" textLength="24.77" lengthAdjust="spacingAndGlyphs">C326S</text>
<line x1="358.25" y1="272.1" x2="358.25" y2="275.50" stroke="#000" stroke-width="1.2"/>
<text transform="translate(361.75,282.00) rotate(-45)" text-anchor="end" font-size="9.0"  fill="#111" stroke="#111" stroke-width="0.15" textLength="24.77" lengthAdjust="spacingAndGlyphs">Y501C</text>
<line x1="374.50" y1="272.1" x2="374.50" y2="275.50" stroke="#000" stroke-width="1.2"/>
<text transform="translate(378.00,282.00) rotate(-45)" text-anchor="end" font-size="9.0"  fill="#111" stroke="#111" stroke-width="0.15" textLength="25.21" lengthAdjust="spacingAndGlyphs">D504N</text>
<line x1="390.75" y1="272.1" x2="390.75" y2="275.50" stroke="#000" stroke-width="1.2"/>
<text transform="translate(394.25,282.00) rotate(-45)" text-anchor="end" font-size="9.0"  fill="#111" stroke="#111" stroke-width="0.15" textLength="25.21" lengthAdjust="spacingAndGlyphs">N144D</text>
<line x1="407.00" y1="272.1" x2="407.00" y2="275.50" stroke="#000" stroke-width="1.2"/>
<text transform="translate(410.50,282.00) rotate(-45)" text-anchor="end" font-size="9.0"  fill="#111" stroke="#111" stroke-width="0.15" textLength="19.36" lengthAdjust="spacingAndGlyphs">V72F</text>
<line x1="423.25" y1="272.1" x2="423.25" y2="275.50" stroke="#000" stroke-width="1.2"/>
<text transform="translate(426.75,282.00) rotate(-45)" text-anchor="end" font-size="9.0"  fill="#111" stroke="#111" stroke-width="0.15" textLength="20.26" lengthAdjust="spacingAndGlyphs">Y64N</text>
<line x1="439.50" y1="272.1" x2="439.50" y2="275.50" stroke="#000" stroke-width="1.2"/>
<text transform="translate(443.00,282.00) rotate(-45)" text-anchor="end" font-size="9.0"  fill="#111" stroke="#111" stroke-width="0.15" textLength="25.21" lengthAdjust="spacingAndGlyphs">H507R</text>
<line x1="455.75" y1="272.1" x2="455.75" y2="275.50" stroke="#000" stroke-width="1.2"/>
<text transform="translate(459.25,282.00) rotate(-45)" text-anchor="end" font-size="9.0"  fill="#111" stroke="#111" stroke-width="0.15" textLength="19.36" lengthAdjust="spacingAndGlyphs">S71F</text>
<line x1="472.00" y1="272.1" x2="472.00" y2="275.50" stroke="#000" stroke-width="1.2"/>
<text transform="translate(475.50,282.00) rotate(-45)" text-anchor="end" font-size="9.0"  fill="#111" stroke="#111" stroke-width="0.15" textLength="25.22" lengthAdjust="spacingAndGlyphs">G204S</text>
<line x1="488.25" y1="272.1" x2="488.25" y2="275.50" stroke="#000" stroke-width="1.2"/>
<text transform="translate(491.75,282.00) rotate(-45)" text-anchor="end" font-size="9.0"  fill="#111" stroke="#111" stroke-width="0.15" textLength="24.77" lengthAdjust="spacingAndGlyphs">D270V</text>
<line x1="504.50" y1="272.1" x2="504.50" y2="275.50" stroke="#000" stroke-width="1.2"/>
<text transform="translate(508.00,282.00) rotate(-45)" text-anchor="end" font-size="9.0"  fill="#111" stroke="#111" stroke-width="0.15" textLength="24.77" lengthAdjust="spacingAndGlyphs">S338R</text>
<line x1="314.0" y1="272.10" x2="317.2" y2="272.10" stroke="#000" stroke-width="1"/>
<text x="311.59999999999997" y="274.60" text-anchor="end" font-size="8.7"  fill="#111" stroke="#111" stroke-width="0.1" textLength="10.98" lengthAdjust="spacingAndGlyphs">0.0</text>
<line x1="314.0" y1="259.16" x2="317.2" y2="259.16" stroke="#000" stroke-width="1"/>
<text x="311.59999999999997" y="261.66" text-anchor="end" font-size="8.7"  fill="#111" stroke="#111" stroke-width="0.1" textLength="10.98" lengthAdjust="spacingAndGlyphs">0.2</text>
<line x1="314.0" y1="246.22" x2="317.2" y2="246.22" stroke="#000" stroke-width="1"/>
<text x="311.59999999999997" y="248.72" text-anchor="end" font-size="8.7"  fill="#111" stroke="#111" stroke-width="0.1" textLength="10.98" lengthAdjust="spacingAndGlyphs">0.4</text>
<line x1="314.0" y1="233.28" x2="317.2" y2="233.28" stroke="#000" stroke-width="1"/>
<text x="311.59999999999997" y="235.78" text-anchor="end" font-size="8.7"  fill="#111" stroke="#111" stroke-width="0.1" textLength="10.98" lengthAdjust="spacingAndGlyphs">0.6</text>
<line x1="314.0" y1="220.34" x2="317.2" y2="220.34" stroke="#000" stroke-width="1"/>
<text x="311.59999999999997" y="222.84" text-anchor="end" font-size="8.7"  fill="#111" stroke="#111" stroke-width="0.1" textLength="10.98" lengthAdjust="spacingAndGlyphs">0.8</text>
<text x="311.59999999999997" y="210.80" text-anchor="end" font-size="8.7"  fill="#111" stroke="#111" stroke-width="0.1" textLength="10.98" lengthAdjust="spacingAndGlyphs">1.0</text>
<line x1="314.0" y1="200.70" x2="317.2" y2="200.70" stroke="#000" stroke-width="1"/>
<text x="311.59999999999997" y="203.20" text-anchor="end" font-size="8.7"  fill="#111" stroke="#111" stroke-width="0.1" textLength="10.98" lengthAdjust="spacingAndGlyphs">2.0</text>
<line x1="314.0" y1="192.50" x2="317.2" y2="192.50" stroke="#000" stroke-width="1"/>
<text x="311.59999999999997" y="195.00" text-anchor="end" font-size="8.7"  fill="#111" stroke="#111" stroke-width="0.1" textLength="10.98" lengthAdjust="spacingAndGlyphs">4.0</text>
<line x1="314.0" y1="184.20" x2="317.2" y2="184.20" stroke="#000" stroke-width="1"/>
<text x="311.59999999999997" y="186.70" text-anchor="end" font-size="8.7"  fill="#111" stroke="#111" stroke-width="0.1" textLength="10.98" lengthAdjust="spacingAndGlyphs">6.0</text>
<path d="M315.1 206.4 L319.5 203.3 M315.1 209.5 L319.5 206.4" stroke="#000" stroke-width="1.2"/>
<text transform="translate(7.9,325.9) scale(0.9,1)" font-size="12.6" font-weight="bold"  fill="#000" stroke="#000" stroke-width="0.45">E</text>
<text transform="translate(16.60,381.0) rotate(-90)" text-anchor="middle" font-size="10.2"  fill="#1a1a1a" stroke="#1a1a1a" stroke-width="0.3" textLength="50.5" lengthAdjust="spacingAndGlyphs">Ubiquitnation</text>
<text transform="translate(27.00,381.8) rotate(-90)" text-anchor="middle" font-size="10.2"  fill="#1a1a1a" stroke="#1a1a1a" stroke-width="0.3" textLength="61.5" lengthAdjust="spacingAndGlyphs">normalized to WT</text>
<rect x="55.45" y="339.50" width="9.7" height="86.40" fill="#2b4a82" stroke="#213965" stroke-width="0.7"/>
<rect x="71.70" y="424.43" width="9.7" height="1.47" fill="#a80a2e" stroke="#830723" stroke-width="0.7"/>
<line x1="76.55" y1="424.43" x2="76.55" y2="423.31" stroke="#1a1a1a" stroke-width="1.2"/>
<line x1="73.35" y1="423.31" x2="79.75" y2="423.31" stroke="#111" stroke-width="1.35"/>
<circle cx="76.55" cy="419.11" r="1.2" fill="#222"/>
<rect x="87.95" y="412.77" width="9.7" height="13.13" fill="#a80a2e" stroke="#830723" stroke-width="0.7"/>
<line x1="92.80" y1="412.77" x2="92.80" y2="405.60" stroke="#1a1a1a" stroke-width="1.2"/>
<line x1="89.60" y1="405.60" x2="96.00" y2="405.60" stroke="#111" stroke-width="1.35"/>
<circle cx="92.80" cy="401.40" r="1.2" fill="#222"/>
<rect x="104.20" y="421.23" width="9.7" height="4.67" fill="#a80a2e" stroke="#830723" stroke-width="0.7"/>
<line x1="109.05" y1="421.23" x2="109.05" y2="418.12" stroke="#1a1a1a" stroke-width="1.2"/>
<line x1="105.85" y1="418.12" x2="112.25" y2="418.12" stroke="#111" stroke-width="1.35"/>
<circle cx="109.05" cy="413.92" r="1.2" fill="#222"/>
<rect x="120.45" y="422.53" width="9.7" height="3.37" fill="#a80a2e" stroke="#830723" stroke-width="0.7"/>
<line x1="125.30" y1="422.53" x2="125.30" y2="419.68" stroke="#1a1a1a" stroke-width="1.2"/>
<line x1="122.10" y1="419.68" x2="128.50" y2="419.68" stroke="#111" stroke-width="1.35"/>
<circle cx="125.30" cy="415.48" r="1.2" fill="#222"/>
<rect x="136.70" y="386.59" width="9.7" height="39.31" fill="#cc8b80" stroke="#9f6c63" stroke-width="0.7"/>
<line x1="141.55" y1="386.59" x2="141.55" y2="371.04" stroke="#1a1a1a" stroke-width="1.2"/>
<line x1="138.35" y1="371.04" x2="144.75" y2="371.04" stroke="#111" stroke-width="1.35"/>
<circle cx="141.55" cy="366.84" r="1.2" fill="#222"/>
<rect x="152.95" y="417.52" width="9.7" height="8.38" fill="#346450" stroke="#284e3e" stroke-width="0.7"/>
<line x1="157.80" y1="417.52" x2="157.80" y2="411.47" stroke="#1a1a1a" stroke-width="1.2"/>
<line x1="154.60" y1="411.47" x2="161.00" y2="411.47" stroke="#111" stroke-width="1.35"/>
<circle cx="157.80" cy="407.27" r="1.2" fill="#222"/>
<rect x="169.20" y="408.88" width="9.7" height="17.02" fill="#346450" stroke="#284e3e" stroke-width="0.7"/>
<line x1="174.05" y1="408.88" x2="174.05" y2="401.97" stroke="#1a1a1a" stroke-width="1.2"/>
<line x1="170.85" y1="401.97" x2="177.25" y2="401.97" stroke="#111" stroke-width="1.35"/>
<circle cx="174.05" cy="397.77" r="1.2" fill="#222"/>
<rect x="185.45" y="394.88" width="9.7" height="31.02" fill="#68a840" stroke="#518331" stroke-width="0.7"/>
<line x1="190.30" y1="394.88" x2="190.30" y2="386.85" stroke="#1a1a1a" stroke-width="1.2"/>
<line x1="187.10" y1="386.85" x2="193.50" y2="386.85" stroke="#111" stroke-width="1.35"/>
<circle cx="190.30" cy="382.65" r="1.2" fill="#222"/>
<rect x="201.70" y="382.96" width="9.7" height="42.94" fill="#68a840" stroke="#518331" stroke-width="0.7"/>
<line x1="206.55" y1="382.96" x2="206.55" y2="370.00" stroke="#1a1a1a" stroke-width="1.2"/>
<line x1="203.35" y1="370.00" x2="209.75" y2="370.00" stroke="#111" stroke-width="1.35"/>
<circle cx="206.55" cy="365.80" r="1.2" fill="#222"/>
<rect x="217.95" y="365.68" width="9.7" height="60.22" fill="#b0b880" stroke="#898f63" stroke-width="0.7"/>
<line x1="222.80" y1="365.68" x2="222.80" y2="355.57" stroke="#1a1a1a" stroke-width="1.2"/>
<line x1="219.60" y1="355.57" x2="226.00" y2="355.57" stroke="#111" stroke-width="1.35"/>
<rect x="234.20" y="382.96" width="9.7" height="42.94" fill="#b0b880" stroke="#898f63" stroke-width="0.7"/>
<line x1="239.05" y1="382.96" x2="239.05" y2="375.96" stroke="#1a1a1a" stroke-width="1.2"/>
<line x1="235.85" y1="375.96" x2="242.25" y2="375.96" stroke="#111" stroke-width="1.35"/>
<circle cx="239.05" cy="371.76" r="1.2" fill="#222"/>
<line x1="49.4" y1="339.50" x2="247.8" y2="339.50" stroke="#8c4c66" stroke-width="1.3"/>
<line x1="51.9" y1="336.5" x2="51.9" y2="426.50" stroke="#000" stroke-width="1.3"/>
<line x1="51.3" y1="425.9" x2="247.8" y2="425.9" stroke="#000" stroke-width="1.3"/>
<line x1="60.30" y1="425.9" x2="60.30" y2="429.30" stroke="#000" stroke-width="1.2"/>
<text transform="translate(63.80,435.80) rotate(-45)" text-anchor="end" font-size="9.0"  fill="#111" stroke="#111" stroke-width="0.15" textLength="12.59" lengthAdjust="spacingAndGlyphs">WT</text>
<line x1="76.55" y1="425.9" x2="76.55" y2="429.30" stroke="#000" stroke-width="1.2"/>
<text transform="translate(80.05,435.80) rotate(-45)" text-anchor="end" font-size="9.0"  fill="#111" stroke="#111" stroke-width="0.15" textLength="24.77" lengthAdjust="spacingAndGlyphs">C326S</text>
<line x1="92.80" y1="425.9" x2="92.80" y2="429.30" stroke="#000" stroke-width="1.2"/>
<text transform="translate(96.30,435.80) rotate(-45)" text-anchor="end" font-size="9.0"  fill="#111" stroke="#111" stroke-width="0.15" textLength="24.77" lengthAdjust="spacingAndGlyphs">Y501C</text>
<line x1="109.05" y1="425.9" x2="109.05" y2="429.30" stroke="#000" stroke-width="1.2"/>
<text transform="translate(112.55,435.80) rotate(-45)" text-anchor="end" font-size="9.0"  fill="#111" stroke="#111" stroke-width="0.15" textLength="25.21" lengthAdjust="spacingAndGlyphs">D504N</text>
<line x1="125.30" y1="425.9" x2="125.30" y2="429.30" stroke="#000" stroke-width="1.2"/>
<text transform="translate(128.80,435.80) rotate(-45)" text-anchor="end" font-size="9.0"  fill="#111" stroke="#111" stroke-width="0.15" textLength="25.21" lengthAdjust="spacingAndGlyphs">N144D</text>
<line x1="141.55" y1="425.9" x2="141.55" y2="429.30" stroke="#000" stroke-width="1.2"/>
<text transform="translate(145.05,435.80) rotate(-45)" text-anchor="end" font-size="9.0"  fill="#111" stroke="#111" stroke-width="0.15" textLength="19.36" lengthAdjust="spacingAndGlyphs">V72F</text>
<line x1="157.80" y1="425.9" x2="157.80" y2="429.30" stroke="#000" stroke-width="1.2"/>
<text transform="translate(161.30,435.80) rotate(-45)" text-anchor="end" font-size="9.0"  fill="#111" stroke="#111" stroke-width="0.15" textLength="20.26" lengthAdjust="spacingAndGlyphs">Y64N</text>
<line x1="174.05" y1="425.9" x2="174.05" y2="429.30" stroke="#000" stroke-width="1.2"/>
<text transform="translate(177.55,435.80) rotate(-45)" text-anchor="end" font-size="9.0"  fill="#111" stroke="#111" stroke-width="0.15" textLength="25.21" lengthAdjust="spacingAndGlyphs">H507R</text>
<line x1="190.30" y1="425.9" x2="190.30" y2="429.30" stroke="#000" stroke-width="1.2"/>
<text transform="translate(193.80,435.80) rotate(-45)" text-anchor="end" font-size="9.0"  fill="#111" stroke="#111" stroke-width="0.15" textLength="19.36" lengthAdjust="spacingAndGlyphs">S71F</text>
<line x1="206.55" y1="425.9" x2="206.55" y2="429.30" stroke="#000" stroke-width="1.2"/>
<text transform="translate(210.05,435.80) rotate(-45)" text-anchor="end" font-size="9.0"  fill="#111" stroke="#111" stroke-width="0.15" textLength="25.22" lengthAdjust="spacingAndGlyphs">G204S</text>
<line x1="222.80" y1="425.9" x2="222.80" y2="429.30" stroke="#000" stroke-width="1.2"/>
<text transform="translate(226.30,435.80) rotate(-45)" text-anchor="end" font-size="9.0"  fill="#111" stroke="#111" stroke-width="0.15" textLength="24.77" lengthAdjust="spacingAndGlyphs">D270V</text>
<line x1="239.05" y1="425.9" x2="239.05" y2="429.30" stroke="#000" stroke-width="1.2"/>
<text transform="translate(242.55,435.80) rotate(-45)" text-anchor="end" font-size="9.0"  fill="#111" stroke="#111" stroke-width="0.15" textLength="24.77" lengthAdjust="spacingAndGlyphs">S338R</text>
<line x1="48.699999999999996" y1="425.90" x2="51.9" y2="425.90" stroke="#000" stroke-width="1"/>
<text x="46.3" y="428.40" text-anchor="end" font-size="8.7"  fill="#111" stroke="#111" stroke-width="0.1" textLength="10.98" lengthAdjust="spacingAndGlyphs">0.0</text>
<line x1="48.699999999999996" y1="408.62" x2="51.9" y2="408.62" stroke="#000" stroke-width="1"/>
<text x="46.3" y="411.12" text-anchor="end" font-size="8.7"  fill="#111" stroke="#111" stroke-width="0.1" textLength="10.98" lengthAdjust="spacingAndGlyphs">0.2</text>
<line x1="48.699999999999996" y1="391.34" x2="51.9" y2="391.34" stroke="#000" stroke-width="1"/>
<text x="46.3" y="393.84" text-anchor="end" font-size="8.7"  fill="#111" stroke="#111" stroke-width="0.1" textLength="10.98" lengthAdjust="spacingAndGlyphs">0.4</text>
<line x1="48.699999999999996" y1="374.06" x2="51.9" y2="374.06" stroke="#000" stroke-width="1"/>
<text x="46.3" y="376.56" text-anchor="end" font-size="8.7"  fill="#111" stroke="#111" stroke-width="0.1" textLength="10.98" lengthAdjust="spacingAndGlyphs">0.6</text>
<line x1="48.699999999999996" y1="356.78" x2="51.9" y2="356.78" stroke="#000" stroke-width="1"/>
<text x="46.3" y="359.28" text-anchor="end" font-size="8.7"  fill="#111" stroke="#111" stroke-width="0.1" textLength="10.98" lengthAdjust="spacingAndGlyphs">0.8</text>
<line x1="48.699999999999996" y1="339.50" x2="51.9" y2="339.50" stroke="#000" stroke-width="1"/>
<text x="46.3" y="342.00" text-anchor="end" font-size="8.7"  fill="#111" stroke="#111" stroke-width="0.1" textLength="10.98" lengthAdjust="spacingAndGlyphs">1.0</text>
<rect x="0.65" y="0.65" width="518.7" height="460.7" fill="none" stroke="#000" stroke-width="1.3"/>
</svg>
</body></html>
